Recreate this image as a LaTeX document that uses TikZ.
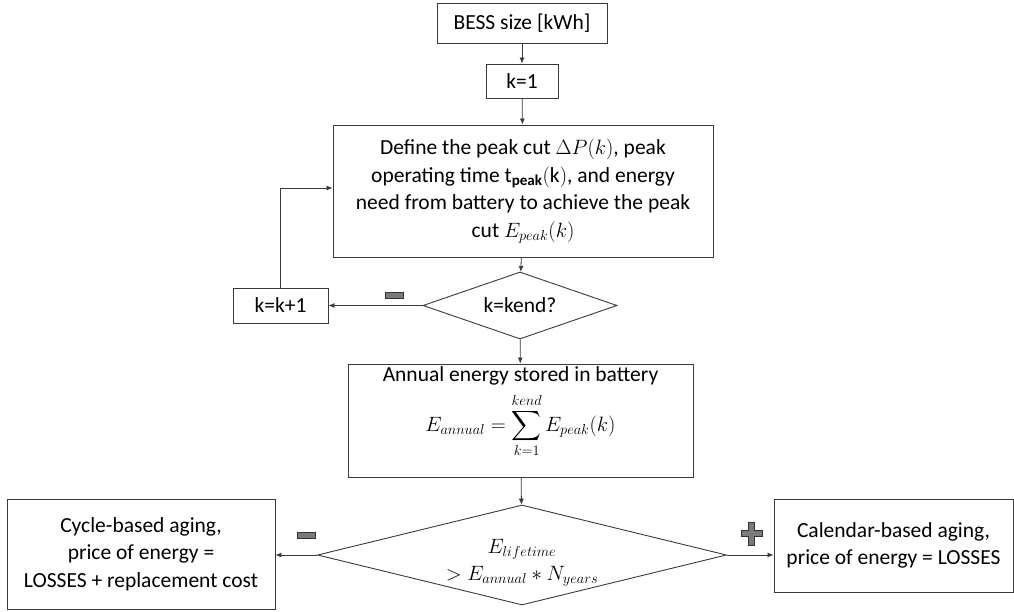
\documentclass[tikz,border=0pt]{standalone}
\usepackage{amsmath}
\usepackage{fontspec}
\setmainfont{Carlito}
\usetikzlibrary{shapes.geometric,arrows.meta}
\definecolor{linec}{HTML}{3A3A3A}
\definecolor{signfill}{HTML}{7A7A7A}
\tikzset{
  box/.style={draw=linec, line width=0.9pt, rectangle, inner sep=0pt, align=center, text=black,
    font=\fontsize{21.5}{27.5}\selectfont},
  dia/.style={draw=linec, line width=0.9pt, diamond, inner sep=0pt, align=center, text=black,
    font=\fontsize{21.5}{27.5}\selectfont},
  conn/.style={draw=linec, line width=0.8pt, -{Latex[length=6pt,width=5pt]}},
  sign/.style={draw=black!80, line width=0.6pt, fill=signfill},
}
\begin{document}
\begin{tikzpicture}[x=1pt,y=-1pt]
\useasboundingbox (0,0) rectangle (1014,612);
\node[box, minimum width=170, minimum height=40] (bess) at (522,23) {BESS size [kWh]};
\node[box, minimum width=72, minimum height=34] (k1) at (522,81) {k=1};
\node[box, minimum width=380, minimum height=132] (def) at (523,191)
  {Define the peak cut $\Delta P(k)$, peak\\
   operating time t$_{\boldsymbol{\mathrm{peak}}}(\mathrm{k})$, and energy\\
   need from battery to achieve the peak\\
   cut $E_{peak}(k)$};
\node[dia, minimum width=194, minimum height=67, aspect=2.9] (kend) at (520,305.5) {k=kend?};
\node[box, minimum width=95, minimum height=35] (kk1) at (280.5,305.5) {k=k+1};
\node[box, minimum width=345, minimum height=113] (ann) at (520.5,420.5)
  {Annual energy stored in battery\\[7pt]
   $\displaystyle E_{annual}=\sum_{k=1}^{kend} E_{peak}(k)$\\[16pt]};
\node[dia, minimum width=409, minimum height=100, aspect=4.1] (life) at (522,555)
  {\mbox{}\\[2.5pt]$E_{lifetime}$\\[-1pt] $>E_{annual}*N_{years}$};
\node[box, minimum width=268, minimum height=110] (cyc) at (141,554)
  {Cycle-based aging,\\ price of energy =\\ LOSSES + replacement cost};
\node[box, minimum width=239, minimum height=93] (cal) at (893.5,545.5)
  {Calendar-based aging,\\ price of energy = LOSSES};

\draw[conn] (bess) -- (k1);
\draw[conn] (k1) -- (def);
\draw[conn] (def) -- (kend);
\draw[conn] (kend.west) -- (kk1.east);
\draw[conn] (kk1.north) |- (def.west |- 0,188);
\draw[conn] (kend) -- (ann);
\draw[conn] (ann) -- (life);
\draw[conn] (life.west) -- (life.west -| cyc.east);
\draw[conn] (life.east) -- (life.east -| cal.west);

% signs
\draw[sign] (385,292) rectangle (403,298);
\draw[sign] (297,532) rectangle (315,538);
\draw[sign] (748.5,522) -- (754.5,522) -- (754.5,530.5) -- (762,530.5) -- (762,536.5) -- (754.5,536.5)
  -- (754.5,545) -- (748.5,545) -- (748.5,536.5) -- (741,536.5) -- (741,530.5) -- (748.5,530.5) -- cycle;
\end{tikzpicture}
\end{document}
